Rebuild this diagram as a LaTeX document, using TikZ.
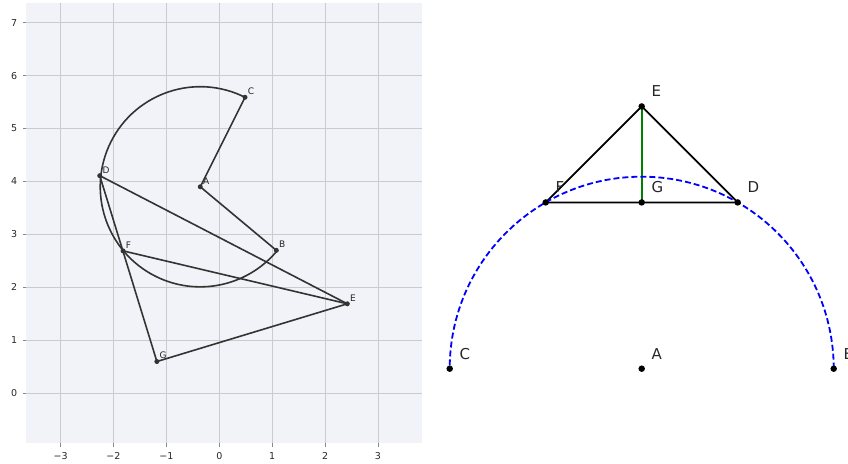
\documentclass[tikz,border=0pt]{standalone}
\usepackage{fontspec}
\setmainfont{DejaVu Sans}
\definecolor{axbg}{HTML}{F2F3F8}
\definecolor{gridc}{HTML}{CBCBCB}
\definecolor{inkc}{HTML}{333333}
\definecolor{txtc}{HTML}{262626}
\definecolor{tickc}{HTML}{888888}
\definecolor{mplgreen}{HTML}{008000}
\begin{document}
\begin{tikzpicture}[
  x=1bp, y=1bp,
  every node/.style={inner sep=0pt, text=txtc},
  smalldot/.style={circle, fill=inkc, minimum size=5bp},
  bigdot/.style={circle, fill=black, minimum size=6.5bp},
  seg/.style={draw=inkc, line width=1.6bp},
  gridline/.style={draw=gridc, line width=1bp},
  tickmark/.style={draw=tickc, line width=0.9bp},
  ticklbl/.style={font=\fontsize{9.5bp}{11bp}\selectfont},
  smalllbl/.style={anchor=base west, font=\fontsize{9bp}{11bp}\selectfont, xshift=2.6bp, yshift=2.6bp},
  biglbl/.style={anchor=base west, font=\fontsize{15bp}{18bp}\selectfont, xshift=9.6bp, yshift=9.6bp}
]
\useasboundingbox (0,0) rectangle (848,464);

% left panel: the plot with axes
\begin{scope}[shift={(219.3,70.7)}, x=52.9bp, y=52.95bp]
  \fill[axbg] (-3.654,-0.944) rectangle (3.826,7.377);
  \foreach \i/\t in {-3/−3,-2/−2,-1/−1,0/0,1/1,2/2,3/3} {
    \draw[gridline] (\i,-0.944) -- (\i,7.377);
    \draw[tickmark] (\i,-0.944) -- ++(0,-3.5bp);
    \node[ticklbl] (xt\i) at (\i,-0.944) [yshift=-12.7bp] {\t};
  }
  \foreach \j in {0,...,7} {
    \draw[gridline] (-3.654,\j) -- (3.826,\j);
    \draw[tickmark] (-3.654,\j) -- ++(-3.5bp,0);
    \node[ticklbl, anchor=east] (yt\j) at (-3.654,\j) [xshift=-8.7bp] {\j};
  }
  \node[smalldot] (lA) at (-0.36,3.90) {};
  \node[smalldot] (lB) at (1.078,2.70) {};
  \node[smalldot] (lC) at (0.486,5.59) {};
  \node[smalldot] (lD) at (-2.26,4.11) {};
  \node[smalldot] (lE) at (2.42,1.69) {};
  \node[smalldot] (lF) at (-1.82,2.69) {};
  \node[smalldot] (lG) at (-1.18,0.60) {};
  \draw[seg] (lC.center) arc[start angle=63.4, end angle=320.1, radius=1.89];
  \draw[seg] (lC.center) -- (lA.center) -- (lB.center);
  \draw[seg] (lD.center) -- (lE.center) -- (lG.center) -- (lD.center);
  \draw[seg] (lF.center) -- (lE.center);
  \foreach \p in {A,B,C,D,E,F,G}
    \node[smalllbl] (lbl\p) at (l\p.center) {\p};
\end{scope}

% right panel: the construction
\begin{scope}[shift={(641.7,95.3)}, x=192bp, y=192bp]
  \coordinate (rA) at (0,0);
  \coordinate (rB) at (1,0);
  \coordinate (rC) at (-1,0);
  \coordinate (rD) at (0.5,0.866);
  \coordinate (rF) at (-0.5,0.866);
  \coordinate (rG) at (0,0.866);
  \coordinate (rE) at (0,1.366);
  \draw[black, line width=1.8bp] (rF) -- (rE) -- (rD) -- (rF);
  \draw[mplgreen, line width=1.8bp] (rE) -- (rG);
  \draw[blue, line width=1.8bp, dash pattern=on 6bp off 3bp] (rB) arc[start angle=0, end angle=180, radius=1];
  \foreach \p in {A,B,C,D,E,F,G} {
    \node[bigdot] (dot\p) at (r\p) {};
    \node[biglbl] (name\p) at (r\p) {\p};
  }
\end{scope}
\end{tikzpicture}
\end{document}
